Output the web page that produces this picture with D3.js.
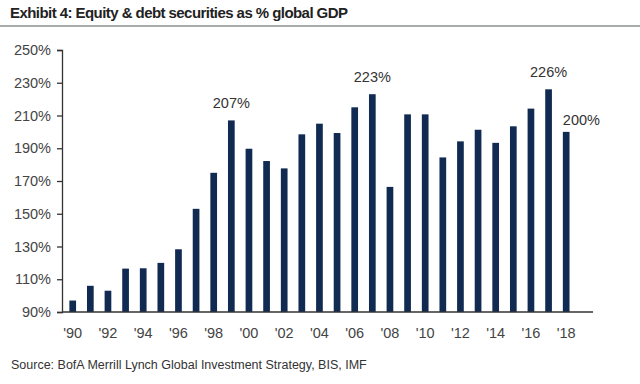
<!DOCTYPE html>
<html>
<head>
<meta charset="utf-8">
<script src="https://cdn.jsdelivr.net/npm/d3@7"></script>
<style>
  body { margin: 0; background: #fff; }
  svg { display: block; font-family: "Liberation Sans", Arial, sans-serif; }
</style>
</head>
<body>
<svg width="640" height="384"></svg>
<script>
// Data
const years = d3.range(1990, 2019);
const values = [97, 106, 103, 116.5, 116.7, 120, 128.3, 153, 175, 207, 189.7, 182.2, 177.7, 198.5,
                205, 199.3, 215, 223, 166.4, 210.7, 210.7, 184.4, 194.2, 201.3, 193.3, 203.4, 214.2, 226, 200];
const yTicks = [90, 110, 130, 150, 170, 190, 210, 230, 250];
const xTickYears = d3.range(1990, 2019, 2);
const callouts = [
  {year: 1999, text: "207%"},
  {year: 2007, text: "223%"},
  {year: 2017, text: "226%"},
  {year: 2018, text: "200%", side: true}
];

const data = years.map((y, i) => ({year: y, value: values[i]}));

const svg = d3.select("svg");
const margin = {left: 62, right: 47, top: 50, bottom: 72};
const width = 640, height = 384;

// Title and rule
svg.append("text")
    .attr("x", 10)
    .attr("y", 18)
    .attr("font-size", 15)
    .attr("font-weight", "bold")
    .attr("fill", "#222")
    .attr("textLength", 338)
    .text("Exhibit 4: Equity & debt securities as % global GDP");

svg.append("line")
    .attr("x1", 0).attr("x2", width)
    .attr("y1", 26).attr("y2", 26)
    .attr("stroke", "#8a8f8f")
    .attr("stroke-width", 1.5);

const x = d3.scaleBand()
    .domain(years)
    .range([63.9, 575])
    .paddingInner(0.62)
    .paddingOuter(0.31);

const y = d3.scaleLinear()
    .domain([90, 250])
    .range([312, 50]);

// y axis
const yAxis = svg.append("g")
    .attr("transform", `translate(${margin.left},0)`)
    .call(d3.axisLeft(y).tickValues(yTicks).tickSize(5).tickPadding(6).tickFormat(d => d + "%"));
yAxis.select(".domain").attr("stroke", "#333").attr("stroke-width", 1.3);
yAxis.selectAll(".tick line").attr("stroke", "#333").attr("stroke-width", 1.3);
yAxis.selectAll("text")
    .attr("font-size", 14.5)
    .attr("fill", "#444")
    .attr("font-family", "Liberation Sans, Arial, sans-serif");

// bars
svg.append("g")
    .selectAll("rect")
    .data(data)
    .enter().append("rect")
    .attr("x", d => x(d.year))
    .attr("y", d => y(d.value))
    .attr("width", x.bandwidth())
    .attr("height", d => y(90) - y(d.value))
    .attr("fill", "#112a52");

// x axis baseline
svg.append("line")
    .attr("x1", margin.left).attr("x2", 593)
    .attr("y1", y(90)).attr("y2", y(90))
    .attr("stroke", "#333")
    .attr("stroke-width", 1.3);

// x tick labels
svg.append("g")
    .selectAll("text")
    .data(xTickYears)
    .enter().append("text")
    .attr("x", d => x(d) + x.bandwidth() / 2)
    .attr("y", 338)
    .attr("text-anchor", "middle")
    .attr("font-size", 14.5)
    .attr("fill", "#444")
    .text(d => "'" + String(d).slice(2));

// callouts
svg.append("g")
    .selectAll("text")
    .data(callouts)
    .enter().append("text")
    .attr("x", d => d.side ? x(d.year) : x(d.year) + x.bandwidth() / 2)
    .attr("y", d => {
      const v = data.find(e => e.year === d.year).value;
      return y(v) - (d.side ? 7 : 12);
    })
    .attr("text-anchor", d => d.side ? "start" : "middle")
    .attr("font-size", 14.5)
    .attr("fill", "#333")
    .text(d => d.text);

// source
svg.append("text")
    .attr("x", 11)
    .attr("y", 369)
    .attr("font-size", 12.5)
    .attr("fill", "#333")
    .text("Source: BofA Merrill Lynch Global Investment Strategy, BIS, IMF");
</script>
</body>
</html>
